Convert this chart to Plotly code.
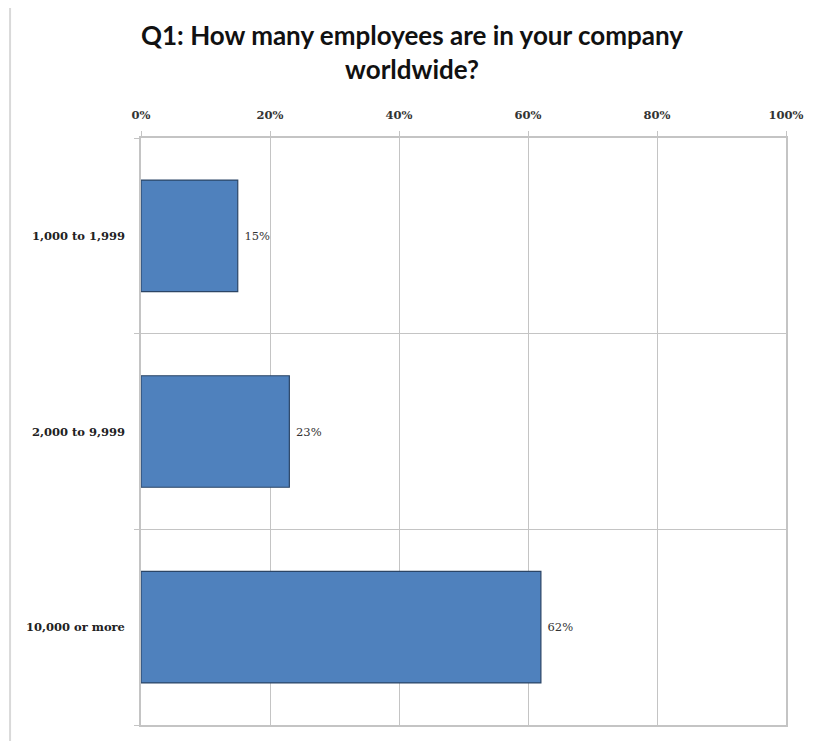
import plotly.graph_objects as go

categories = ["1,000 to 1,999", "2,000 to 9,999", "10,000 or more"]
values = [15, 23, 62]
value_labels = ["15%", "23%", "62%"]
x_ticks = [0, 20, 40, 60, 80, 100]
x_tick_labels = ["0%", "20%", "40%", "60%", "80%", "100%"]
title_text = "Q1: How many employees are in your company<br>worldwide?"

positions = list(range(len(categories)))
boundaries = [p - 0.5 for p in positions] + [positions[-1] + 0.5]

grid_color = "#c4c4c4"
serif = "DejaVu Serif, Liberation Serif, serif"

fig = go.Figure()
fig.add_trace(go.Bar(
    x=values,
    y=positions,
    orientation="h",
    width=0.57,
    marker=dict(color="#4F81BD", line=dict(color="#2B4566", width=1.2)),
    text=value_labels,
    texttemplate="\u00a0%{text}",
    textposition="outside",
    textfont=dict(family=serif, size=11.5, color="#333333"),
    cliponaxis=False,
    hoverinfo="skip",
))

fig.update_layout(
    width=822,
    height=741,
    margin=dict(l=133, r=44, t=130, b=24),
    paper_bgcolor="white",
    plot_bgcolor="white",
    showlegend=False,
    title=dict(
        text=title_text,
        x=0.4915,
        xref="container",
        xanchor="center",
        y=0.95,
        yanchor="top",
        font=dict(family="Lato, Open Sans, sans-serif", size=26, color="#111111", weight="bold"),
    ),
    xaxis=dict(
        side="top",
        range=[0, 100],
        tickvals=x_ticks,
        ticktext=x_tick_labels,
        showgrid=True,
        gridcolor=grid_color,
        gridwidth=1.3,
        zeroline=False,
        showline=True,
        linecolor=grid_color,
        linewidth=1.5,
        mirror=True,
        ticks="outside",
        ticklen=5,
        tickcolor=grid_color,
        tickfont=dict(family=serif, size=11.5, color="#333333", weight="bold"),
        ticklabelstandoff=8,
    ),
    yaxis=dict(
        range=[positions[-1] + 0.5, positions[0] - 0.5],
        tickvals=positions,
        ticktext=categories,
        ticks="",
        showgrid=False,
        zeroline=False,
        showline=True,
        linecolor=grid_color,
        linewidth=1.5,
        mirror=True,
        tickfont=dict(family=serif, size=11.5, color="#222222", weight="bold"),
        ticklabelstandoff=12,
        minor=dict(
            tickvals=boundaries,
            showgrid=True,
            gridcolor=grid_color,
            gridwidth=1.3,
            ticks="outside",
            ticklen=5,
            tickcolor=grid_color,
        ),
    ),
    shapes=[dict(
        type="rect",
        xref="paper", yref="paper",
        x0=-0.203, x1=1.0527, y0=-0.06, y1=1.2266,
        line=dict(color="#d9d9d9", width=2),
        fillcolor="rgba(0,0,0,0)",
        layer="below",
    )],
)

fig.write_html("out.html")
